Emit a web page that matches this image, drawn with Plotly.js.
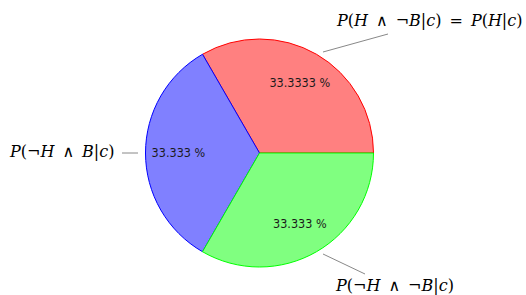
<!DOCTYPE html>
<html>
<head>
<meta charset="utf-8">
<script src="https://cdn.plot.ly/plotly-3.0.1.min.js"></script>
<style>html,body{margin:0;padding:0;background:#fff;}#chart{width:526px;height:295px;}</style>
</head>
<body>
<div id="chart"></div>
<script>
// Data
const categories = ["P(H ∧ ¬B|c) = P(H|c)", "P(¬H ∧ B|c)", "P(¬H ∧ ¬B|c)"];
const S = "\u2002";
const categoryLabels = [
  "<i>P</i>(<i>H</i>" + S + "∧" + S + "¬<i>B</i>|<i>c</i>)" + S + "=" + S + "<i>P</i>(<i>H</i>|<i>c</i>)",
  "<i>P</i>(¬<i>H</i>" + S + "∧" + S + "<i>B</i>|<i>c</i>)",
  "<i>P</i>(¬<i>H</i>" + S + "∧" + S + "¬<i>B</i>|<i>c</i>)"
];
const values = [33.3333, 33.333, 33.333];
const valueLabels = ["33.3333 %", "33.333 %", "33.333 %"];
const fillColors = ["#ff8080", "#8080ff", "#80ff80"];
const lineColors = ["#ff0000", "#0000ff", "#00ff00"];

const W = 526, H = 295;
const cx = 259.5, cy = 153, R = 114;
const px = x => x / W, py = y => 1 - y / H;
const dom = { x: [px(cx - R), px(cx + R)], y: [py(cy + R), py(cy - R)] };

const common = {
  type: "pie",
  labels: categories,
  values: values,
  sort: false,
  direction: "counterclockwise",
  rotation: -30,
  hoverinfo: "none",
  domain: dom,
  showlegend: false
};

const pieTrace = Object.assign({}, common, {
  textinfo: "none",
  marker: { colors: fillColors, line: { color: lineColors, width: 1 } }
});

// transparent ring carrying the percentage labels (places them further out)
const textTrace = Object.assign({}, common, {
  hole: 0.42,
  text: valueLabels,
  textinfo: "text",
  textposition: "inside",
  insidetextorientation: "horizontal",
  marker: { colors: ["rgba(0,0,0,0)", "rgba(0,0,0,0)", "rgba(0,0,0,0)"], line: { width: 0 } },
  insidetextfont: { family: "DejaVu Sans Condensed, DejaVu Sans", size: 12.5, color: "#1a1a1a" }
});

const labelFont = { family: "DejaVu Serif, Liberation Serif, serif", size: 16, color: "#000" };
const annots = [
  { x: px(429), y: py(20), text: categoryLabels[0], xanchor: "center" },
  { x: px(116), y: py(151), text: categoryLabels[1], xanchor: "right" },
  { x: px(394), y: py(285), text: categoryLabels[2], xanchor: "center" }
].map(a => Object.assign(a, { xref: "paper", yref: "paper", yanchor: "middle", showarrow: false, font: labelFont }));

const leaderLines = [
  [323, 52, 388, 34],
  [122, 153, 138, 153],
  [323, 254, 365, 274]
];
const shapes = leaderLines.map(l => ({
  type: "line", xref: "paper", yref: "paper",
  x0: px(l[0]), y0: py(l[1]), x1: px(l[2]), y1: py(l[3]),
  line: { color: "#888", width: 1 }
}));

Plotly.newPlot("chart", [pieTrace, textTrace], {
  width: W, height: H,
  margin: { l: 0, r: 0, t: 0, b: 0 },
  paper_bgcolor: "#fff",
  annotations: annots,
  shapes: shapes
}, { displayModeBar: false, staticPlot: true });
</script>
</body>
</html>
